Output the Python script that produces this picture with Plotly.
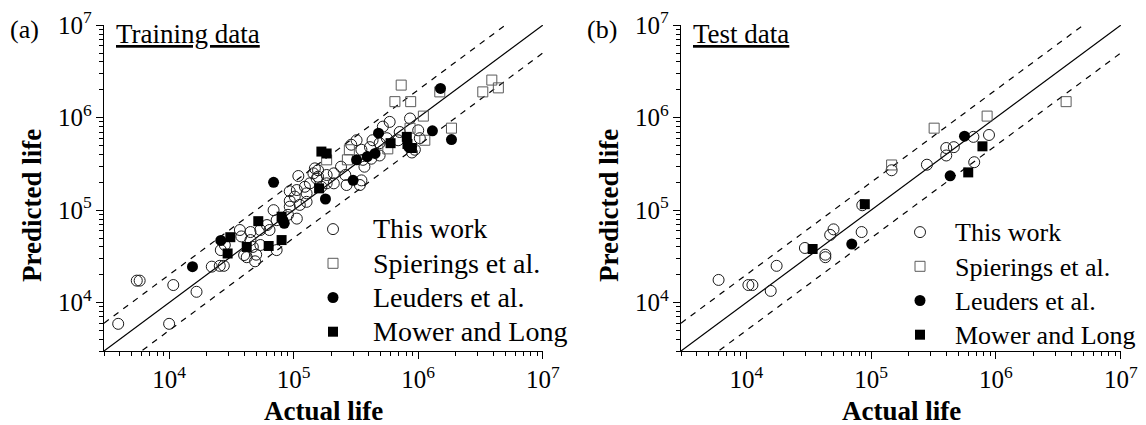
import math
import plotly.graph_objects as go

# ---------------- data: (actual life, predicted life) ----------------
# (a) Training data
train_this_work_actual = [
    3.9e3, 5.5e3, 5.8e3, 1.0e4, 1.08e4, 1.66e4, 2.2e4, 2.55e4, 2.75e4, 2.6e4,
    2.8e4, 3.7e4, 3.8e4, 4.5e4, 4.5e4, 4.2e4, 4.0e4, 4.7e4, 4.9e4, 5.0e4,
    5.4e4, 5.4e4, 6.1e4, 6.4e4, 6.9e4, 7.3e4, 7.3e4, 9.3e4, 9.0e4, 9.3e4,
    9.3e4, 1.02e5, 1.06e5, 1.06e5, 1.09e5, 1.12e5, 1.23e5, 1.27e5, 1.27e5, 1.35e5,
    1.44e5, 1.48e5, 1.57e5, 1.67e5, 1.53e5, 1.57e5, 1.84e5, 1.84e5, 2.1e5, 2.1e5,
    2.4e5, 2.6e5, 2.66e5, 2.9e5, 3.2e5, 3.4e5, 3.5e5, 3.5e5, 3.6e5, 3.7e5,
    4.1e5, 4.2e5, 4.3e5, 4.9e5, 4.9e5, 5.2e5, 5.6e5, 5.9e5, 6.9e5, 7.1e5,
    8.6e5, 9.4e5, 8.9e5, 1.0e6, 1.03e6,
]
train_this_work_pred = [
    5.9e3, 1.73e4, 1.73e4, 5.9e3, 1.55e4, 1.31e4, 2.45e4, 2.5e4, 2.5e4, 3.7e4,
    4.2e4, 6.1e4, 5.2e4, 5.8e4, 4.75e4, 3.1e4, 3.27e4, 4.0e4, 2.8e4, 3.3e4,
    4.2e4, 6.1e4, 6.9e4, 6.1e4, 1.0e5, 7.8e4, 3.7e4, 1.09e5, 8.9e4, 1.6e5,
    1.26e5, 1.40e5, 1.65e5, 8.1e4, 2.34e5, 1.14e5, 1.79e5, 1.52e5, 1.23e5, 1.95e5,
    2.5e5, 2.83e5, 2.30e5, 1.79e5, 2.2e5, 2.7e5, 2.4e5, 1.95e5, 2.5e5, 1.95e5,
    2.95e5, 2.4e5, 1.87e5, 5.1e5, 5.7e5, 1.87e5, 2.1e5, 4.5e5, 3.5e5, 2.95e5,
    4.8e5, 3.6e5, 5.7e5, 5.3e5, 3.9e5, 8.0e5, 6.0e5, 9.0e5, 5.7e5, 7.0e5,
    9.8e5, 4.5e5, 4.2e5, 7.3e5, 6.0e5,
]
train_spierings_actual = [
    7.3e5, 6.5e5, 8.7e5, 1.1e6, 1.49e6, 3.3e6, 3.9e6, 4.4e6,
    1.85e6, 8.6e5, 1.13e6, 5.7e5, 2.8e5, 2.7e5, 1.84e5,
]
train_spierings_pred = [
    2.25e6, 1.49e6, 1.49e6, 1.04e6, 1.9e6, 1.9e6, 2.55e6, 2.1e6,
    7.7e5, 7.7e5, 5.7e5, 4.6e5, 4.5e5, 3.5e5, 3.5e5,
]
train_leuders_actual = [
    1.54e4, 2.6e4, 6.9e4, 8.2e4, 8.4e4, 1.8e5, 3.0e5, 3.2e5,
    3.9e5, 4.5e5, 4.8e5, 8.4e5, 1.3e6, 1.51e6, 1.85e6,
]
train_leuders_pred = [
    2.45e4, 4.7e4, 2.0e5, 7.8e4, 7.2e4, 1.32e5, 2.1e5, 3.5e5,
    3.8e5, 4.1e5, 6.8e5, 4.8e5, 7.2e5, 2.07e6, 5.8e5,
]
train_mower_actual = [
    2.95e4, 3.1e4, 4.2e4, 5.2e4, 6.3e4, 8.0e4, 8.0e4,
    1.6e5, 1.67e5, 1.84e5, 6.0e5, 8.1e5, 8.2e5, 8.9e5,
]
train_mower_pred = [
    3.4e4, 5.1e4, 4.0e4, 7.6e4, 4.1e4, 4.75e4, 8.5e4,
    1.72e5, 4.3e5, 4.1e5, 5.3e5, 6.2e5, 5.2e5, 4.7e5,
]

# (b) Test data
test_this_work_actual = [
    6.0e3, 1.04e4, 1.12e4, 1.57e4, 1.75e4, 2.95e4, 4.3e4, 4.3e4, 4.7e4, 5.0e4,
    8.4e4, 8.5e4, 1.46e5, 2.8e5, 4.0e5, 4.0e5, 4.6e5, 6.6e5, 8.8e5, 6.7e5,
]
test_this_work_pred = [
    1.76e4, 1.55e4, 1.55e4, 1.34e4, 2.5e4, 3.9e4, 3.3e4, 3.1e4, 5.4e4, 6.2e4,
    5.8e4, 1.13e5, 2.7e5, 3.1e5, 4.7e5, 3.9e5, 4.8e5, 6.2e5, 6.5e5, 3.3e5,
]
test_spierings_actual = [1.46e5, 3.2e5, 8.5e5, 3.65e6]
test_spierings_pred = [3.08e5, 7.7e5, 1.04e6, 1.49e6]
test_leuders_actual = [7.0e4, 4.3e5, 5.6e5]
test_leuders_pred = [4.3e4, 2.35e5, 6.3e5]
test_mower_actual = [3.4e4, 8.9e4, 6.0e5, 7.8e5]
test_mower_pred = [3.8e4, 1.16e5, 2.56e5, 4.9e5]

series_names = ["This work", "Spierings et al.", "Leuders et al.", "Mower and Long"]

# axis limits and the scatter band (predicted = actual * factor, actual / factor)
LIFE_MIN = 3e3
LIFE_MAX = 1e7
BAND_FACTOR = 2

# ---------------- styling ----------------
FONT = '"Liberation Serif", "Times New Roman", Times, serif'
W, H = 1146, 425

marker_styles = [
    dict(symbol="circle-open", size=11, color="#1a1a1a", line=dict(width=1)),
    dict(symbol="square-open", size=10, color="#5a5a5a", line=dict(width=1)),
    dict(symbol="circle", size=11, color="#000000", line=dict(width=0)),
    dict(symbol="square", size=10, color="#000000", line=dict(width=0)),
]

# legend label sizes (rows are spaced by the smaller legend font)
panels = [
    dict(xref="x", yref="y", legend="legend", label_px=28,
         series=[(train_this_work_actual, train_this_work_pred),
                 (train_spierings_actual, train_spierings_pred),
                 (train_leuders_actual, train_leuders_pred),
                 (train_mower_actual, train_mower_pred)]),
    dict(xref="x2", yref="y2", legend="legend2", label_px=26,
         series=[(test_this_work_actual, test_this_work_pred),
                 (test_spierings_actual, test_spierings_pred),
                 (test_leuders_actual, test_leuders_pred),
                 (test_mower_actual, test_mower_pred)]),
]

fig = go.Figure()

line_x = [LIFE_MIN, LIFE_MAX]
for p in panels:
    # 1:1 line and factor-of-two band
    fig.add_trace(go.Scatter(x=line_x, y=line_x, mode="lines",
                             line=dict(color="black", width=1.2),
                             xaxis=p["xref"], yaxis=p["yref"], showlegend=False,
                             hoverinfo="skip"))
    fig.add_trace(go.Scatter(x=line_x, y=[v * BAND_FACTOR for v in line_x], mode="lines",
                             line=dict(color="black", width=1.2, dash="6px,6px"),
                             xaxis=p["xref"], yaxis=p["yref"], showlegend=False,
                             hoverinfo="skip"))
    fig.add_trace(go.Scatter(x=line_x, y=[v / BAND_FACTOR for v in line_x], mode="lines",
                             line=dict(color="black", width=1.2, dash="6px,6px"),
                             xaxis=p["xref"], yaxis=p["yref"], showlegend=False,
                             hoverinfo="skip"))
    for name, (xs, ys), mk in zip(series_names, p["series"], marker_styles):
        label = '<span style="font-size:%dpx">%s</span>' % (p["label_px"], name)
        fig.add_trace(go.Scatter(x=xs, y=ys, mode="markers", name=label, marker=mk,
                                 xaxis=p["xref"], yaxis=p["yref"], legend=p["legend"]))

# panel placement in pixels -> paper fractions
def fx(px):
    return px / W

def fy(py):
    return 1 - py / H

x_domains = [(104, 543), (681, 1121)]
y_top, y_bot = 25, 351

log_range = [math.log10(LIFE_MIN), math.log10(LIFE_MAX) + 0.002]

axis_common = dict(
    type="log", range=log_range, dtick=1, exponentformat="power",
    showline=True, linecolor="black", linewidth=1.3,
    ticks="outside", ticklen=7, tickwidth=1.3, tickcolor="black",
    minor=dict(ticks="outside", ticklen=4, tickwidth=1, tickcolor="black",
               dtick="D1", showgrid=False),
    showgrid=False, zeroline=False, mirror=False,
    tickfont=dict(family=FONT, size=20, color="black"),
    automargin=False,
)

fig.update_layout(
    xaxis=dict(domain=[fx(x_domains[0][0]), fx(x_domains[0][1])], anchor="y", **axis_common),
    yaxis=dict(domain=[fy(y_bot), fy(y_top)], anchor="x", **axis_common),
    xaxis2=dict(domain=[fx(x_domains[1][0]), fx(x_domains[1][1])], anchor="y2", **axis_common),
    yaxis2=dict(domain=[fy(y_bot), fy(y_top)], anchor="x2", **axis_common),
)

legend_common = dict(
    font=dict(family=FONT, size=24, color="black"),
    bgcolor="rgba(0,0,0,0)", borderwidth=0,
    xanchor="left", yanchor="top", tracegroupgap=0,
)
fig.update_layout(
    legend=dict(x=fx(293), y=fy(207), itemwidth=70, **legend_common),
    legend2=dict(x=fx(885), y=fy(210), itemwidth=60, **legend_common),
)

annotations = []
for (x0, x1), tag, title in zip(x_domains, ["(a)", "(b)"], ["Training data", "Test data"]):
    # axis titles
    annotations.append(dict(text="<b>Actual life</b>", x=fx((x0 + x1) / 2), y=fy(411),
                            xref="paper", yref="paper", xanchor="center", yanchor="middle",
                            showarrow=False, font=dict(family=FONT, size=27, color="black")))
    annotations.append(dict(text="<b>Predicted life</b>", x=fx(x0 - 72), y=fy(206),
                            xref="paper", yref="paper", xanchor="center", yanchor="middle",
                            textangle=-90, showarrow=False,
                            font=dict(family=FONT, size=27, color="black")))
    # panel tag and subtitle
    annotations.append(dict(text=tag, x=fx(x0 - 96), y=fy(30),
                            xref="paper", yref="paper", xanchor="left", yanchor="middle",
                            showarrow=False, font=dict(family=FONT, size=26, color="black")))
    annotations.append(dict(text="<u>" + title + "</u>", x=fx(x0 + 10), y=fy(34),
                            xref="paper", yref="paper", xanchor="left", yanchor="middle",
                            showarrow=False, font=dict(family=FONT, size=27, color="black")))

fig.update_layout(
    annotations=annotations,
    width=W, height=H,
    margin=dict(l=0, r=0, t=0, b=0),
    paper_bgcolor="white", plot_bgcolor="white",
    font=dict(family=FONT, color="black"),
)

fig.write_html("out.html")
